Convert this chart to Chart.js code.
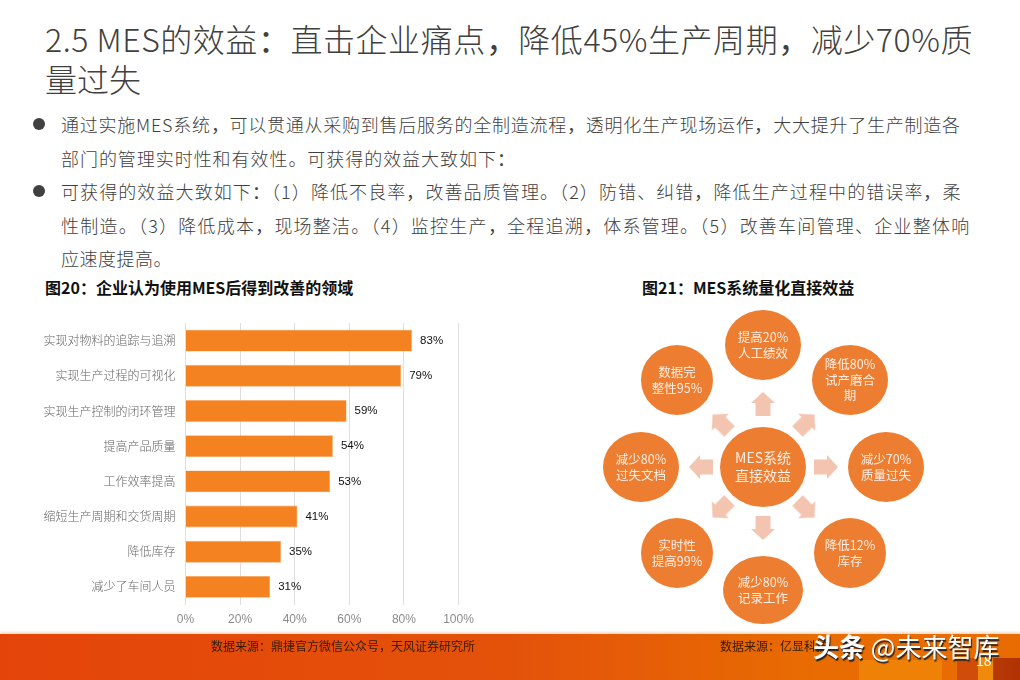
<!DOCTYPE html>
<html lang="zh">
<head>
<meta charset="utf-8">
<title>MES的效益</title>
<script src="https://cdn.jsdelivr.net/npm/chart.js@4/dist/chart.umd.min.js"></script>
<style>
/* comma and colon sit mid-box in the reference, TC glyphs do that */
@font-face { font-family: "Punct"; src: local("Noto Sans CJK TC"); unicode-range: U+FF0C, U+FF1A; }
html, body { margin: 0; padding: 0; }
body { position: relative; width: 1020px; height: 680px; overflow: hidden; background: #fff;
  font-family: "Punct", "Noto Sans CJK SC", "Noto Sans", sans-serif; }
.line { position: absolute; white-space: nowrap; }
.title { left: 45px; font-size: 32px; line-height: 40px; color: #404040; font-weight: 300; }
.body { left: 61px; font-size: 18px; line-height: 30px; color: #404040; font-weight: 300; }
.dot { position: absolute; left: 33px; width: 12px; height: 12px; border-radius: 50%; background: #404040; }
.fig { font-size: 16px; line-height: 20px; font-weight: 700; color: #111; }
.footer { position: absolute; left: 0; top: 634px; width: 1020px; height: 46px;
  background: linear-gradient(90deg, #e4440a 0%, #e4520a 50%, #e86c02 80%, #e86c02 100%);
  box-shadow: 0 -2px 2px #fbdcc4; }
.b1 { position: absolute; left: 859px; top: 26px; width: 83px; height: 20px; background: #ee8106; }
.b2 { position: absolute; left: 957px; top: 24px; width: 63px; height: 22px;
  background: linear-gradient(90deg, #cf4d08 0, #cf4d08 33%, #ef8a0c 33%, #ef8a0c 57%, #b83a06 57%, #b03204 100%); }
.src { font-size: 12px; line-height: 16px; color: #3a1a05; }
.mark { font-size: 26px; line-height: 30px; color: #fff; text-shadow: 1px 2px 1px #222; }
canvas { position: absolute; }
</style>
</head>
<body>
<div class="line title" style="top:18px;letter-spacing:.55px">2.5 MES的效益&#xFF1A;直击企业痛点&#xFF0C;降低45%生产周期&#xFF0C;减少70%质</div>
<div class="line title" style="top:58px">量过失</div>

<div class="dot" style="top:118px"></div>
<div class="line body" style="top:109px;letter-spacing:.75px">通过实施MES系统&#xFF0C;可以贯通从采购到售后服务的全制造流程&#xFF0C;透明化生产现场运作&#xFF0C;大大提升了生产制造各</div>
<div class="line body" style="top:143px;letter-spacing:.95px">部门的管理实时性和有效性。可获得的效益大致如下&#xFF1A;</div>
<div class="dot" style="top:185px"></div>
<div class="line body" style="top:176px;letter-spacing:1.09px">可获得的效益大致如下&#xFF1A;&#xFF08;1&#xFF09;降低不良率&#xFF0C;改善品质管理。&#xFF08;2&#xFF09;防错、纠错&#xFF0C;降低生产过程中的错误率&#xFF0C;柔</div>
<div class="line body" style="top:210px;letter-spacing:1.23px">性制造。&#xFF08;3&#xFF09;降低成本&#xFF0C;现场整洁。&#xFF08;4&#xFF09;监控生产&#xFF0C;全程追溯&#xFF0C;体系管理。&#xFF08;5&#xFF09;改善车间管理、企业整体响</div>
<div class="line body" style="top:243px;letter-spacing:.5px">应速度提高。</div>

<div class="line fig" style="left:45px;top:277px">图20&#xFF1A;企业认为使用MES后得到改善的领域</div>
<div class="line fig" style="left:642px;top:277px">图21&#xFF1A;MES系统量化直接效益</div>

<canvas id="bars" width="500" height="330" style="left:0;top:300px"></canvas>
<canvas id="nodes" width="340" height="332" style="left:600px;top:300px"></canvas>

<div class="footer"><div class="b1"></div><div class="b2"></div></div>
<div class="line src" style="left:211px;top:638px">数据来源&#xFF1A;鼎捷官方微信公众号&#xFF0C;天风证券研究所</div>
<div class="line src" style="left:720px;top:638px">数据来源&#xFF1A;亿显科技</div>
<div class="line src" style="left:976px;top:652px;color:#fff;font-size:14px">18</div>
<div class="line mark" style="left:813px;top:631px"><b>头条</b> @未来智库</div>

<script>
const categories = ['实现对物料的追踪与追溯', '实现生产过程的可视化', '实现生产控制的闭环管理', '提高产品质量',
  '工作效率提高', '缩短生产周期和交货周期', '降低库存', '减少了车间人员'];
const shares = [83, 79, 59, 54, 53, 41, 35, 31];

// fig 21 diagram (x/y are page pixels)
const nodeLines = [['提高20%', '人工绩效'], ['降低80%', '试产磨合', '期'], ['减少70%', '质量过失'], ['降低12%', '库存'],
  ['减少80%', '记录工作'], ['实时性', '提高99%'], ['减少80%', '过失文档'], ['数据完', '整性95%'], ['MES系统', '直接效益']];
const nodeX = [763, 850, 886, 850, 763, 677, 641, 677, 763];
const nodeY = [345, 380, 467, 553, 590, 553, 467, 380, 467];
const nodeRx = [38, 38, 38, 36, 40, 36, 38, 36, 43];
const nodeRy = [35, 35, 35, 35, 34, 35, 35, 35, 40];
const arrowX = [763, 806, 826, 806, 763, 721, 701, 721];
const arrowY = [404, 423, 467, 509, 528, 509, 467, 423];
const arrowAngle = [0, 45, 90, 135, 180, 225, 270, 315];

const numFont = '"Liberation Sans"';

const barLabels = {
  id: 'barLabels',
  afterDatasetsDraw(chart) {
    const ctx = chart.ctx;
    const bars = chart.getDatasetMeta(0).data;
    ctx.save();
    ctx.font = '11.5px ' + numFont;
    ctx.fillStyle = '#111';
    ctx.textBaseline = 'middle';
    bars.forEach((bar, i) => ctx.fillText(shares[i] + '%', bar.x + 8, bar.y));
    ctx.restore();
  }
};

new Chart(document.getElementById('bars'), {
  type: 'bar',
  data: {
    labels: categories,
    datasets: [{
      data: shares,
      backgroundColor: '#f58220',
      borderColor: '#f9a868',
      borderWidth: 0.6,
      categoryPercentage: 0.62,
      barPercentage: 1
    }]
  },
  options: {
    indexAxis: 'y',
    responsive: false,
    animation: false,
    devicePixelRatio: 1,
    layout: { padding: { top: 23, right: 41.5, bottom: 0, left: 0 } },
    plugins: { legend: { display: false }, tooltip: { enabled: false } },
    scales: {
      x: {
        min: 0,
        max: 100,
        ticks: { stepSize: 20, padding: 8, maxRotation: 0, color: '#8a8a8a',
          font: { family: numFont, size: 12 }, callback: v => v + '%' },
        grid: { color: '#dedede', lineWidth: 1, drawTicks: false },
        border: { display: false },
        afterFit(scale) { scale.height = 25.5; }
      },
      y: {
        ticks: { padding: 10, color: '#666', font: { family: 'Noto Sans CJK SC', size: 12, weight: 300 } },
        grid: { display: false, drawTicks: false },
        border: { display: false },
        afterFit(scale) { scale.width = 185.5; }
      }
    }
  },
  plugins: [barLabels]
});

function ellipseImage(rx, ry) {
  const c = document.createElement('canvas');
  c.width = rx * 2;
  c.height = ry * 2;
  const g = c.getContext('2d');
  g.fillStyle = '#ed7d31';
  g.beginPath();
  g.ellipse(rx, ry, rx, ry, 0, 0, Math.PI * 2);
  g.fill();
  return c;
}

function arrowImage() {
  const c = document.createElement('canvas');
  c.width = 24;
  c.height = 24;
  const g = c.getContext('2d');
  g.fillStyle = '#f3c5b1';
  g.beginPath();
  g.moveTo(12, 0);
  g.lineTo(24, 11);
  g.lineTo(19.5, 11);
  g.lineTo(19.5, 24);
  g.lineTo(4.5, 24);
  g.lineTo(4.5, 11);
  g.lineTo(0, 11);
  g.closePath();
  g.fill();
  return c;
}

const nodeText = {
  id: 'nodeText',
  afterDatasetsDraw(chart) {
    const ctx = chart.ctx;
    const pts = chart.getDatasetMeta(0).data;
    ctx.save();
    ctx.fillStyle = '#fdeee4';
    ctx.textAlign = 'center';
    ctx.textBaseline = 'middle';
    pts.forEach((p, i) => {
      const lines = nodeLines[i];
      const size = i === 8 ? 14 : 12.5;
      const step = i === 8 ? 18 : 15.7;
      ctx.font = size + 'px "Noto Sans CJK SC"';
      lines.forEach((t, k) => ctx.fillText(t, p.x, p.y + (k - (lines.length - 1) / 2) * step));
    });
    ctx.restore();
  }
};

const arrowImg = arrowImage();
new Chart(document.getElementById('nodes'), {
  type: 'scatter',
  data: {
    datasets: [{
      data: nodeX.map((x, i) => ({ x: x, y: nodeY[i] })),
      pointStyle: nodeRx.map((rx, i) => ellipseImage(rx, nodeRy[i])),
      pointRadius: 36,
      clip: false
    }, {
      data: arrowX.map((x, i) => ({ x: x, y: arrowY[i] })),
      pointStyle: arrowImg,
      rotation: arrowAngle,
      pointRadius: 12,
      clip: false
    }]
  },
  options: {
    responsive: false,
    animation: false,
    devicePixelRatio: 1,
    layout: { padding: 0, autoPadding: false },
    plugins: { legend: { display: false }, tooltip: { enabled: false } },
    scales: {
      x: { display: false, min: 600, max: 940 },
      y: { display: false, min: 300, max: 632, reverse: true }
    }
  },
  plugins: [nodeText]
});
</script>
</body>
</html>
